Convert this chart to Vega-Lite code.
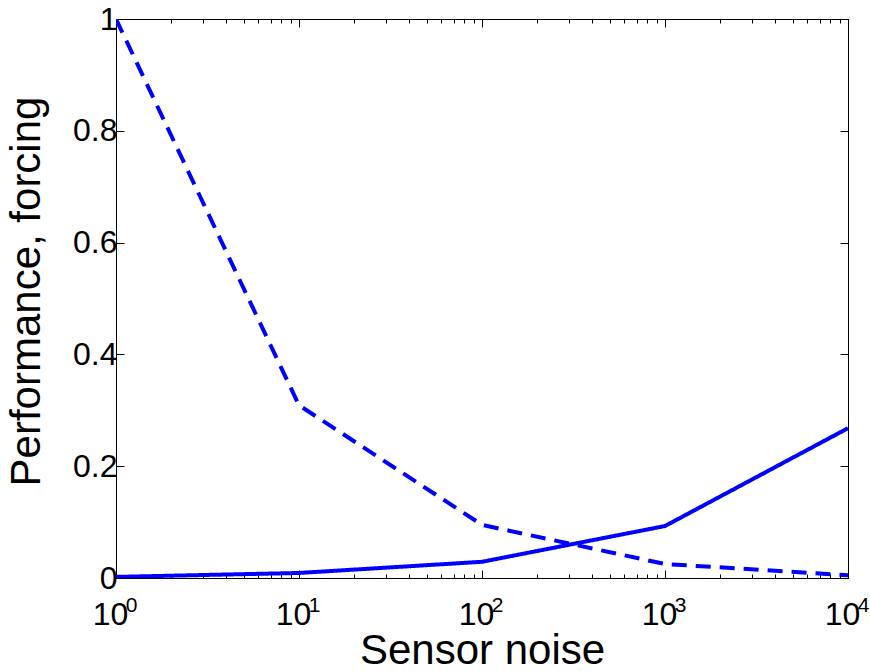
{
  "$schema": "https://vega.github.io/schema/vega-lite/v6.json",
  "autosize": "none",
  "padding": {"left": 116, "top": 19, "right": 22, "bottom": 93},
  "width": 732,
  "height": 559,
  "background": "white",
  "config": {
    "view": {"stroke": "black", "strokeWidth": 1},
    "font": "Liberation Sans",
    "axis": {"grid": false, "domainColor": "black", "tickColor": "black", "labelColor": "black", "titleColor": "black", "labelFont": "Liberation Sans", "titleFont": "Liberation Sans", "titleFontWeight": "normal", "labelFontSize": 32, "titleFontSize": 42}
  },
  "data": {
    "values": [
      {"noise": 1, "value": 0.002, "series": "forcing"},
      {"noise": 10, "value": 0.009, "series": "forcing"},
      {"noise": 100, "value": 0.029, "series": "forcing"},
      {"noise": 1000, "value": 0.093, "series": "forcing"},
      {"noise": 10000, "value": 0.268, "series": "forcing"},
      {"noise": 1, "value": 1.0, "series": "performance"},
      {"noise": 10, "value": 0.309, "series": "performance"},
      {"noise": 100, "value": 0.095, "series": "performance"},
      {"noise": 1000, "value": 0.025, "series": "performance"},
      {"noise": 10000, "value": 0.005, "series": "performance"}
    ]
  },
  "layer": [
    {
      "mark": {"type": "line", "color": "#0000FF", "strokeWidth": 4, "strokeCap": "butt", "clip": true},
      "encoding": {
        "x": {
          "field": "noise", "type": "quantitative",
          "scale": {"type": "log", "domain": [1, 10000], "nice": false},
          "axis": {
            "orient": "bottom",
            "values": [1,2,3,4,5,6,7,8,9,10,20,30,40,50,60,70,80,90,100,200,300,400,500,600,700,800,900,1000,2000,3000,4000,5000,6000,7000,8000,9000,10000],
            "labels": false,
            "tickSize": {"condition": {"test": "indexof([1,10,100,1000,10000], datum.value) >= 0", "value": -8}, "value": -4},
            "title": "Sensor noise",
            "titleBaseline": "alphabetic",
            "titleY": 85
          }
        },
        "y": {
          "field": "value", "type": "quantitative",
          "scale": {"domain": [0, 1], "nice": false},
          "axis": {
            "orient": "left",
            "values": [0, 0.2, 0.4, 0.6, 0.8, 1],
            "format": "~g",
            "tickSize": -8,
            "labelPadding": 7,
            "labelFlush": false,
            "title": "Performance, forcing",
            "titleAngle": 270,
            "titleBaseline": "alphabetic",
            "titleAlign": "center",
            "titleX": -77,
            "titleY": 272
          }
        },
        "strokeDash": {
          "field": "series", "type": "nominal",
          "scale": {"domain": ["forcing", "performance"], "range": [[1, 0], [15, 9]]},
          "legend": null
        }
      }
    },
    {
      "mark": {"type": "line", "opacity": 0},
      "encoding": {
        "x": {
          "field": "noise", "type": "quantitative",
          "axis": {
            "orient": "top",
            "values": [1,2,3,4,5,6,7,8,9,10,20,30,40,50,60,70,80,90,100,200,300,400,500,600,700,800,900,1000,2000,3000,4000,5000,6000,7000,8000,9000,10000],
            "labels": false,
            "tickSize": {"condition": {"test": "indexof([1,10,100,1000,10000], datum.value) >= 0", "value": -8}, "value": -4},
            "title": null
          }
        },
        "y": {
          "field": "value", "type": "quantitative",
          "axis": {
            "orient": "right",
            "values": [0, 0.2, 0.4, 0.6, 0.8, 1],
            "labels": false,
            "tickSize": -8,
            "title": null
          }
        },
        "detail": {"field": "series", "type": "nominal"}
      }
    },
    {
      "mark": {"type": "line", "opacity": 0},
      "encoding": {
        "x": {
          "field": "noise", "type": "quantitative",
          "axis": {
            "orient": "bottom",
            "values": [1, 10, 100, 1000, 10000],
            "labelExpr": "datum.value == 1 ? '0' : datum.value == 10 ? '1' : datum.value == 100 ? '2' : datum.value == 1000 ? '3' : '4'",
            "domain": false,
            "ticks": false,
            "tickSize": 0,
            "labelFontSize": 21,
            "labelPadding": 33,
            "labelBaseline": "alphabetic",
            "labelOffset": 15,
            "labelFlush": false,
            "labelOverlap": false,
            "title": null
          }
        },
        "y": {
          "field": "value", "type": "quantitative",
          "axis": null
        },
        "detail": {"field": "series", "type": "nominal"}
      }
    },
    {
      "mark": {"type": "line", "opacity": 0},
      "encoding": {
        "x": {
          "field": "noise", "type": "quantitative",
          "axis": {
            "orient": "bottom",
            "values": [1, 10, 100, 1000, 10000],
            "labelExpr": "'10'",
            "domain": false,
            "ticks": false,
            "tickSize": 0,
            "labelPadding": 46,
            "labelBaseline": "alphabetic",
            "labelOffset": -6,
            "labelFlush": false,
            "labelOverlap": false,
            "title": null
          }
        },
        "y": {
          "field": "value", "type": "quantitative",
          "axis": null
        },
        "detail": {"field": "series", "type": "nominal"}
      }
    }
  ],
  "resolve": {"axis": {"x": "independent", "y": "independent"}}
}
